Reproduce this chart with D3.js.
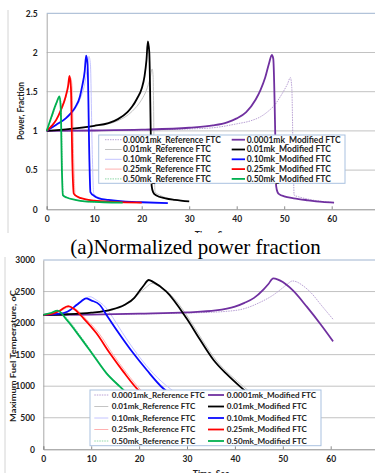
<!DOCTYPE html>
<html>
<head>
<meta charset="utf-8">
<script src="https://cdn.jsdelivr.net/npm/d3@7"></script>
<style>
  html, body { margin: 0; padding: 0; background: #fff; }
  svg { display: block; }
  .tick text { font-family: Lato, "Liberation Sans", sans-serif; font-weight: 700; fill: #222; }
</style>
</head>
<body>
<svg id="chart" width="375" height="473"></svg>
<script>
// series labels
const sizes = ['0.0001mk', '0.01mk', '0.10mk', '0.25mk', '0.50mk'];

// power fraction vs time, [time sec, fraction]
const powRef0001 = [[0,1],[10,1.003],[20,1.01],[30,1.025],[35,1.04],[40,1.09],[43,1.13],[45,1.18],[47,1.27],[48,1.33],[49,1.42],[50,1.52],[50.7,1.6],[51.3,1.68],[51.6,1.55],[51.9,0.6],[52.1,0.18],[53,0.16],[55,0.13],[58,0.1],[60.5,0.085]];
const powRef001 = [[0,1],[5,1.02],[10,1.06],[15,1.13],[18,1.25],[20,1.4],[21,1.52],[21.8,1.68],[22.2,1.79],[22.4,1.7],[22.6,0.8],[22.8,0.22],[23.5,0.19],[25,0.15],[27,0.12],[30,0.1]];
const powRef010 = [[0,1],[2,1.07],[4,1.15],[6,1.28],[7,1.4],[8,1.6],[8.6,1.82],[8.9,1.95],[9.2,1.85],[9.6,0.7],[9.9,0.2],[11,0.15],[13,0.12],[17,0.1],[22,0.085],[25.5,0.08]];
const powRef025 = [[0,1],[1,1.06],[2,1.13],[3,1.25],[4,1.42],[4.6,1.58],[5,1.68],[5.3,1.6],[5.7,0.6],[6,0.19],[7,0.15],[10,0.11],[15,0.095],[20,0.085]];
const powRef050 = [[0,1],[1,1.16],[2,1.33],[2.8,1.43],[3.05,1.3],[3.3,0.5],[3.5,0.18],[4.3,0.15],[6,0.12],[8,0.1],[12,0.09],[16,0.085]];
const powMod0001 = [[0,1],[10,1.005],[20,1.015],[30,1.04],[35,1.07],[38,1.11],[40,1.16],[42,1.24],[44,1.4],[45,1.52],[46,1.68],[46.8,1.86],[47.4,1.97],[47.7,1.92],[48.1,1.0],[48.3,0.3],[48.6,0.22],[49,0.19],[50,0.165],[52,0.14],[55,0.115],[58,0.095],[60.5,0.085]];
const powMod001 = [[0,1],[5,1.025],[10,1.065],[13,1.1],[15,1.15],[17,1.24],[18,1.31],[19,1.41],[20,1.54],[20.6,1.7],[21,1.9],[21.3,2.14],[21.6,2.0],[21.9,1.0],[22.1,0.3],[22.4,0.22],[23,0.18],[25,0.14],[27,0.12],[30,0.1]];
const powMod010 = [[0,1],[1,1.04],[2,1.08],[4,1.16],[5,1.22],[6,1.3],[7,1.44],[7.5,1.58],[8,1.76],[8.3,1.96],[8.6,1.85],[9.0,0.6],[9.2,0.22],[10,0.17],[11,0.14],[13,0.12],[16,0.1],[20,0.09],[25.5,0.08]];
const powMod025 = [[0,1],[1,1.06],[2,1.14],[3,1.27],[4,1.44],[4.5,1.57],[4.8,1.7],[5.1,1.55],[5.4,0.6],[5.7,0.2],[6.5,0.16],[8,0.13],[10,0.11],[14,0.095],[20,0.085]];
const powMod050 = [[0,1],[1,1.18],[2,1.35],[2.7,1.44],[2.95,1.3],[3.2,0.5],[3.4,0.18],[4.2,0.15],[6,0.12],[8,0.1],[12,0.09],[16,0.085]];

// max fuel temperature vs time, [time sec, degC]
const tmpRef0001 = [[0,2130],[20,2145],[30,2160],[38,2185],[42,2230],[45,2320],[48,2445],[50,2560],[51,2620],[52,2668],[53,2650],[54,2604],[56,2472],[58,2287],[60.5,2060]];
const tmpRef001 = [[0,2130],[10,2160],[15,2220],[18,2330],[20,2470],[21.5,2570],[22.7,2630],[24,2590],[26.2,2480],[28.5,2280],[30.5,2060],[33.3,1720],[36.2,1400],[39,1180],[42,980],[44,850]];
const tmpRef010 = [[0,2130],[3,2145],[5,2175],[7,2280],[8.5,2370],[9.7,2419],[11,2370],[13,2250],[14.5,2090],[16.5,1850],[20,1470],[23,1200],[26.5,960],[28,880]];
const tmpRef025 = [[0,2130],[3,2170],[5.5,2255],[7,2210],[9,2060],[11.7,1830],[14.5,1510],[17.3,1220],[20.5,930],[23,780]];
const tmpRef050 = [[0,2130],[1.5,2150],[3.2,2185],[5,2070],[7.8,1790],[10.6,1495],[13.4,1200],[16.2,990],[18,860]];
const tmpMod0001 = [[0,2130],[10,2135],[20,2150],[30,2170],[36,2200],[40,2260],[42,2320],[44,2400],[46,2535],[47,2620],[48,2710],[49,2690],[50,2650],[52,2525],[55,2260],[58,1970],[60.5,1710]];
const tmpMod001 = [[0,2130],[5,2140],[10,2165],[14,2210],[17,2290],[19,2400],[20,2500],[21,2600],[22,2683],[23,2650],[25.7,2499],[29.9,2076],[32.7,1740],[35.5,1420],[38.3,1190],[41.1,993],[43,870]];
const tmpMod010 = [[0,2130],[3,2145],[5,2180],[7,2290],[8,2350],[8.9,2393],[10,2360],[11.8,2287],[13.2,2129],[15.3,1891],[18.8,1521],[21.6,1257],[25,967],[27,850]];
const tmpMod025 = [[0,2130],[2,2150],[3.5,2200],[5.2,2270],[6.5,2220],[8.4,2076],[11.1,1838],[13.9,1521],[16.7,1231],[19.8,940],[22,800]];
const tmpMod050 = [[0,2130],[1.5,2160],[3,2198],[4.9,2050],[7.6,1786],[10.4,1495],[13.2,1204],[16,993],[18,850]];

const powTicks = [0, 0.5, 1, 1.5, 2, 2.5];
const tmpTicks = [0, 500, 1000, 1500, 2000, 2500, 3000];
const timeTicks = [0, 10, 20, 30, 40, 50, 60];

const modColors = ['#7030a0', '#000000', '#0a0aff', '#ff0000', '#00b050'];
const refColors = ['#b8a0d4', '#c4c4c4', '#c4c4ff', '#ffb0b0', '#90d8a8'];
const refDash = ['1.5,1', null, null, null, '1.5,1'];

const svg = d3.select('#chart');
const font = 'Lato, "Liberation Sans", sans-serif';

function panel(o) {
  const x = d3.scaleLinear().domain([0, 70]).range([o.left, o.right]);
  const y = d3.scaleLinear().domain([0, o.ymax]).range([o.bottom, o.top]);

  // chart area border (left)
  svg.append('line')
    .attr('x1', o.frameX).attr('x2', o.frameX)
    .attr('y1', o.frameY0).attr('y2', o.frameY1)
    .attr('stroke', '#d4d4d4');

  // Grid lines
  svg.append('g')
    .selectAll('line')
    .data(o.yTicks.slice(1, -1))
    .join('line')
    .attr('x1', o.left).attr('x2', o.right)
    .attr('y1', d => y(d)).attr('y2', d => y(d))
    .attr('stroke', '#c2c2c2');

  svg.append('line')
    .attr('x1', o.left).attr('x2', o.right)
    .attr('y1', o.top).attr('y2', o.top)
    .attr('stroke', '#9fb4d0');

  // Y Axis
  const ya = svg.append('g')
    .attr('transform', `translate(${o.left},0)`)
    .call(d3.axisLeft(y).tickValues(o.yTicks).tickSize(0).tickPadding(o.yPad).tickFormat(d3.format('')));
  ya.select('.domain').attr('stroke', '#a8a8a8');
  ya.selectAll('text').attr('font-size', 8.5);

  // X Axis
  const xa = svg.append('g')
    .attr('transform', `translate(0,${o.bottom})`)
    .call(d3.axisBottom(x).tickValues(timeTicks).tickSize(-3).tickPadding(7));
  xa.select('.domain').attr('stroke', '#8c8c8c');
  xa.selectAll('.tick line').attr('stroke', '#8c8c8c');
  xa.selectAll('text').attr('font-size', 8.5);

  const line = d3.line()
    .x(d => x(d[0]))
    .y(d => y(d[1]))
    .curve(d3.curveMonotoneX);

  o.refs.forEach((s, i) => {
    svg.append('path')
      .datum(s)
      .attr('fill', 'none')
      .attr('stroke', refColors[i])
      .attr('stroke-width', 1)
      .attr('stroke-dasharray', refDash[i])
      .attr('d', line);
  });
  o.mods.forEach((s, i) => {
    svg.append('path')
      .datum(s)
      .attr('fill', 'none')
      .attr('stroke', modColors[i])
      .attr('stroke-width', 1.8)
      .attr('d', line);
  });

  // axis title
  svg.append('text')
    .attr('transform', `translate(${o.ytX},${o.ytY}) rotate(-90)`)
    .attr('text-anchor', 'middle')
    .attr('font-family', font).attr('font-weight', 700)
    .attr('font-size', o.ytSize)
    .attr('textLength', o.ytLen).attr('lengthAdjust', 'spacingAndGlyphs')
    .attr('fill', '#222')
    .text(o.yTitle);

  svg.append('text')
    .attr('x', (o.left + o.right) / 2).attr('y', o.xtY)
    .attr('text-anchor', 'middle')
    .attr('font-family', font).attr('font-weight', 700)
    .attr('font-size', 8.5).attr('fill', '#222')
    .text('Time, Sec');

  // Legend
  const lg = o.legend;
  svg.append('rect')
    .attr('x', lg.x0).attr('y', lg.y0)
    .attr('width', lg.x1 - lg.x0).attr('height', lg.y1 - lg.y0)
    .attr('fill', '#fff').attr('stroke', '#a9c1e0');
  sizes.forEach((s, i) => {
    const ry = lg.row0 + i * lg.step;
    svg.append('line')
      .attr('x1', lg.c1[0]).attr('x2', lg.c1[1]).attr('y1', ry).attr('y2', ry)
      .attr('stroke', refColors[i]).attr('stroke-width', 1)
      .attr('stroke-dasharray', refDash[i]);
    svg.append('text')
      .attr('x', lg.c1[2]).attr('y', ry).attr('dy', '0.35em')
      .attr('font-family', font).attr('font-weight', 700)
      .attr('font-size', lg.fs).attr('fill', '#222')
      .text(s + '_Reference FTC');
    svg.append('line')
      .attr('x1', lg.c2[0]).attr('x2', lg.c2[1]).attr('y1', ry).attr('y2', ry)
      .attr('stroke', modColors[i]).attr('stroke-width', 1.8);
    svg.append('text')
      .attr('x', lg.c2[2]).attr('y', ry).attr('dy', '0.35em')
      .attr('font-family', font).attr('font-weight', 700)
      .attr('font-size', lg.fs).attr('fill', '#222')
      .text(s + '_Modified FTC');
  });
}

panel({
  left: 46.7, right: 379.2, top: 13.3, bottom: 209.3, ymax: 2.5,
  yTicks: powTicks, yPad: 9,
  frameX: 8, frameY0: 10, frameY1: 240,
  refs: [powRef0001, powRef001, powRef010, powRef025, powRef050],
  mods: [powMod0001, powMod001, powMod010, powMod025, powMod050],
  yTitle: 'Power, Fraction', ytX: 23.5, ytY: 111, ytSize: 8.5, ytLen: 58,
  xtY: 238,
  legend: { x0: 98.7, x1: 345, y0: 135, y1: 183.3, row0: 139.7, step: 9.8, fs: 8.5,
    c1: [105, 121.7, 123], c2: [231.7, 245, 246.7] }
});

// title band, drawn over the lower edge of the first chart
svg.append('rect')
  .attr('x', 0).attr('y', 233).attr('width', 375).attr('height', 23)
  .attr('fill', '#fff');
svg.append('text')
  .attr('x', 195.5).attr('y', 253.5)
  .attr('text-anchor', 'middle')
  .attr('font-family', '"Liberation Serif", "Times New Roman", serif')
  .attr('font-size', 21).attr('fill', '#000')
  .text('(a)Normalized power fraction');

panel({
  left: 43.3, right: 378.6, top: 260, bottom: 449.3, ymax: 3000,
  yTicks: tmpTicks, yPad: 8.3,
  frameX: 5, frameY0: 257, frameY1: 473,
  refs: [tmpRef0001, tmpRef001, tmpRef010, tmpRef025, tmpRef050],
  mods: [tmpMod0001, tmpMod001, tmpMod010, tmpMod025, tmpMod050],
  yTitle: 'Maximum Fuel Temperature, oC', ytX: 16, ytY: 356, ytSize: 7.5, ytLen: 132,
  xtY: 477,
  legend: { x0: 90, x1: 321, y0: 390, y1: 445.7, row0: 395, step: 11.5, fs: 8.1,
    c1: [94.3, 108.3, 111.7], c2: [208, 224, 226.7] }
});
</script>
</body>
</html>
